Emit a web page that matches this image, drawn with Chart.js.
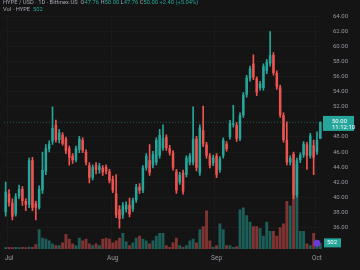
<!DOCTYPE html>
<html>
<head>
<meta charset="utf-8">
<script src="https://cdn.jsdelivr.net/npm/chart.js@4.4.1/dist/chart.umd.min.js"></script>
<style>
  html, body { margin: 0; padding: 0; background: #141414; }
  #wrap { width: 360px; height: 270px; position: relative; }
</style>
</head>
<body>
<div id="wrap"><canvas id="hypeChart"></canvas></div>
<script>
// daily candles, 30 Jun -> 2 Oct
var firstDay = '2025-06-30'
var opens = [38.0, 40.5, 39.25, 37.75, 40.1, 41.1, 39.5, 39.0, 44.9, 39.2,
  38.6, 40.9, 43.4, 46.4, 47.4, 49.6, 47.6, 48.3, 47.75, 46.5,
  45.5, 44.9, 46.3, 47.6, 46.0, 44.25, 42.6, 44.25, 43.6, 43.9,
  44.0, 43.4, 42.4, 40.5, 38.4, 37.6, 38.4, 39.0, 38.4, 39.6,
  41.4, 40.9, 43.9, 44.9, 44.25, 44.6, 45.5, 46.5, 48.0, 46.5,
  45.9, 43.4, 42.0, 43.25, 43.0, 44.6, 44.6, 47.75, 43.25, 48.9,
  47.0, 45.5, 44.5, 45.5, 43.6, 45.5, 47.1, 48.0, 49.6, 49.6,
  47.75, 50.9, 53.6, 55.75, 57.75, 55.75, 54.5, 54.5, 56.75, 57.75,
  58.9, 56.5, 54.6, 50.9, 47.6, 44.6, 45.75, 40.25, 44.9, 45.6,
  47.0, 45.5, 46.9, 46.0, 47.76]
var highs = [42.0, 41.0, 39.8, 40.5, 41.6, 41.4, 39.8, 45.2, 45.3, 39.5,
  41.5, 46.0, 47.0, 47.5, 52.0, 50.25, 49.0, 48.6, 48.0, 46.8,
  45.8, 46.8, 48.1, 47.9, 46.3, 44.6, 44.3, 44.6, 44.5, 44.2,
  44.3, 43.7, 42.8, 43.0, 38.9, 39.3, 39.4, 39.9, 39.9, 41.7,
  41.8, 44.2, 45.8, 47.0, 46.1, 47.9, 49.0, 49.6, 48.3, 46.9,
  46.2, 43.7, 43.3, 43.6, 45.5, 45.8, 52.0, 48.1, 49.6, 52.1,
  47.3, 45.8, 45.6, 45.8, 45.4, 47.9, 47.4, 50.2, 52.2, 49.9,
  51.2, 53.9, 56.2, 57.4, 58.9, 56.0, 55.4, 57.7, 58.3, 62.0,
  59.2, 56.8, 54.9, 51.2, 50.0, 45.5, 46.0, 45.2, 45.9, 47.4,
  47.3, 48.5, 47.6, 48.7, 50.0]
var lows = [37.5, 38.8, 37.0, 37.5, 39.8, 38.9, 38.2, 38.6, 38.2, 37.0,
  38.4, 40.5, 43.0, 46.0, 47.0, 47.3, 47.2, 46.9, 45.8, 44.25,
  44.5, 44.7, 45.9, 45.9, 44.3, 41.9, 42.3, 43.1, 43.2, 42.9,
  43.1, 41.9, 40.6, 37.3, 35.9, 37.2, 38.0, 37.4, 38.1, 39.3,
  40.5, 40.6, 43.6, 42.9, 43.9, 44.3, 45.2, 46.2, 46.2, 45.6,
  43.6, 40.5, 41.7, 40.4, 42.7, 44.3, 44.3, 43.5, 42.9, 46.7,
  45.2, 43.9, 44.2, 42.6, 43.3, 45.2, 46.1, 47.7, 49.3, 47.4,
  47.5, 50.6, 53.3, 55.4, 55.6, 53.5, 54.2, 54.2, 56.4, 57.4,
  56.2, 54.3, 50.6, 47.3, 44.3, 44.3, 39.8, 40.0, 44.6, 45.3,
  43.7, 45.2, 43.0, 45.7, 47.76]
var closes = [40.75, 39.25, 37.4, 40.1, 41.1, 39.5, 39.0, 44.9, 38.6, 38.6,
  41.1, 43.6, 46.5, 47.1, 49.2, 47.6, 48.6, 47.1, 46.1, 45.25,
  44.9, 46.5, 47.75, 46.2, 44.6, 42.6, 44.0, 43.6, 44.1, 43.3,
  43.4, 42.2, 40.9, 37.6, 37.1, 38.9, 39.0, 37.75, 39.6, 41.4,
  40.9, 43.9, 45.5, 43.25, 45.75, 47.6, 48.25, 47.9, 46.5, 45.9,
  43.9, 40.9, 43.0, 40.75, 45.25, 45.5, 47.75, 43.9, 49.25, 47.0,
  45.5, 44.25, 45.25, 43.0, 45.1, 47.6, 46.4, 49.9, 49.8, 47.75,
  50.9, 53.6, 55.9, 57.1, 55.9, 53.9, 55.1, 57.4, 58.0, 58.9,
  56.5, 54.6, 50.9, 47.6, 44.6, 45.2, 40.25, 44.9, 45.6, 47.1,
  45.5, 48.2, 45.25, 47.6, 50.0]
var volumes = [150, 170, 160, 180, 150, 170, 160, 190, 180, 420,
  1760, 1010, 920, 760, 500, 340, 330, 590, 1340, 920,
  500, 340, 1010, 760, 920, 500, 340, 500, 340, 920,
  1010, 920, 590, 760, 1010, 1430, 670, 340, 590, 1010,
  1180, 920, 760, 500, 760, 1180, 1430, 1430, 340, 170,
  590, 1010, 340, 170, 340, 760, 920, 590, 1760, 2020,
  3440, 760, 170, 340, 2270, 1760, 340, 340, 170, 250,
  3530, 3700, 3020, 2440, 2020, 2020, 1850, 1180, 2440, 1600,
  1600, 1180, 1930, 2270, 4280, 3860, 4790, 7560, 1600, 1600,
  500, 340, 1430, 760, 502]
var priceTicks = [36, 38, 40, 42, 44, 46, 48, 50, 52, 54, 56, 58, 60, 62, 64]
var monthNames = ['Jan', 'Feb', 'Mar', 'Apr', 'May', 'Jun', 'Jul', 'Aug', 'Sep', 'Oct', 'Nov', 'Dec']

var upColour = '#26a69a'
var downColour = '#ef5350'
var upVolColour = 'rgba(38, 166, 154, 0.5)'
var downVolColour = 'rgba(239, 83, 80, 0.5)'
var textColour = '#9598a1'
var fontFamily = 'Roboto, "Noto Sans", sans-serif'

var labels = []
var d = new Date(firstDay + 'T00:00:00Z')
for (var i = 0; i < closes.length; i++) {
  labels.push(d.toISOString().slice(0, 10))
  d.setUTCDate(d.getUTCDate() + 1)
}

var bodies = []
var wicks = []
var candleColours = []
var volColours = []
for (var i = 0; i < closes.length; i++) {
  bodies.push([opens[i], closes[i]])
  wicks.push([lows[i], highs[i]])
  var up = closes[i] >= opens[i]
  candleColours.push(up ? upColour : downColour)
  volColours.push(up ? upVolColour : downVolColour)
}

var lastClose = closes[closes.length - 1]
var prevClose = closes[closes.length - 2]
var change = lastClose - prevClose

// TradingView style overlays: legend text, price line, axis badges
var overlayPlugin = {
  id: 'overlay',
  beforeDraw: function (chart) {
    var c = chart.ctx
    c.save()
    c.fillStyle = '#141414'
    c.fillRect(0, 0, chart.width, chart.height)
    c.restore()
  },
  afterDatasetsDraw: function (chart) {
    var c = chart.ctx
    var area = chart.chartArea
    var y = chart.scales.y.getPixelForValue(lastClose)
    c.save()
    c.strokeStyle = 'rgba(38, 166, 154, 0.4)'
    c.lineWidth = 1
    c.setLineDash([1, 2])
    c.beginPath()
    c.moveTo(area.left, Math.round(y) + 0.5)
    c.lineTo(area.right, Math.round(y) + 0.5)
    c.stroke()
    c.restore()
  },
  afterDraw: function (chart) {
    var c = chart.ctx
    var area = chart.chartArea
    var y = chart.scales.y.getPixelForValue(lastClose)
    c.save()

    // last price badge
    c.fillStyle = upColour
    c.fillRect(area.right + 1, y - 6, 31, 15)
    c.fillStyle = '#ffffff'
    c.font = '6px ' + fontFamily
    c.textBaseline = 'middle'
    c.textAlign = 'left'
    c.fillText(lastClose.toFixed(2), area.right + 10, y - 0.5)
    c.fillText('11:12:10', area.right + 10, y + 5.5)

    // volume badge
    var vy = chart.scales.yv.getPixelForValue(volumes[volumes.length - 1])
    c.fillStyle = upColour
    c.fillRect(area.right + 2, vy - 5, 17, 9)
    c.fillStyle = '#ffffff'
    c.fillText(String(volumes[volumes.length - 1]), area.right + 5, vy - 0.5)
    c.fillStyle = '#6a3bd6'
    c.beginPath()
    c.arc(area.right - 5, vy, 3.5, 0, Math.PI * 2)
    c.fill()

    // legend lines
    var x = 3
    function seg(text, colour) {
      c.fillStyle = colour
      c.fillText(text, x, ty)
      x += c.measureText(text).width
    }
    c.font = '5.8px ' + fontFamily
    var ty = 3
    seg('HYPE / USD · 1D · Bitfinex.US  ', '#a3a6af')
    seg('O', '#a3a6af'); seg(opens[opens.length - 1].toFixed(2) + ' ', upColour)
    seg('H', '#a3a6af'); seg(highs[highs.length - 1].toFixed(2) + ' ', upColour)
    seg('L', '#a3a6af'); seg(lows[lows.length - 1].toFixed(2) + ' ', upColour)
    seg('C', '#a3a6af'); seg(lastClose.toFixed(2) + ' ', upColour)
    seg('+' + change.toFixed(2) + ' (+' + (change / prevClose * 100).toFixed(2) + '%)', upColour)
    x = 3
    ty = 10
    seg('Vol · HYPE  ', '#a3a6af')
    seg(String(volumes[volumes.length - 1]), upColour)
    c.restore()
  }
}

var ctx = document.getElementById('hypeChart').getContext('2d')
var hypeChart = new Chart(ctx, {
  type: 'bar',
  data: {
    labels: labels,
    datasets: [
      {
        label: 'Body',
        data: bodies,
        backgroundColor: candleColours,
        grouped: false,
        barPercentage: 0.75,
        categoryPercentage: 1,
        minBarLength: 1,
        order: 1
      },
      {
        label: 'Wick',
        data: wicks,
        backgroundColor: candleColours,
        grouped: false,
        barThickness: 1,
        order: 2
      },
      {
        label: 'Volume',
        data: volumes,
        yAxisID: 'yv',
        backgroundColor: volColours,
        grouped: false,
        barPercentage: 0.85,
        categoryPercentage: 1,
        order: 3
      }
    ]
  },
  options: {
    responsive: true,
    maintainAspectRatio: false,
    animation: false,
    layout: {
      padding: { left: 4, right: 0, top: 0, bottom: 0 }
    },
    plugins: {
      legend: { display: false },
      tooltip: { enabled: false }
    },
    scales: {
      x: {
        type: 'category',
        offset: true,
        border: { display: false },
        afterFit: function (scale) { scale.height = 21 },
        grid: {
          drawTicks: false,
          color: function (context) {
            var lab = labels[context.index]
            return lab && lab.slice(8) === '01' ? '#1a1a1a' : 'rgba(0,0,0,0)'
          }
        },
        ticks: {
          autoSkip: false,
          maxRotation: 0,
          padding: 5,
          color: textColour,
          font: { family: fontFamily, size: 6.5 },
          callback: function (value, index) {
            var lab = labels[index]
            if (lab.slice(8) === '01') {
              return monthNames[parseInt(lab.slice(5, 7), 10) - 1]
            }
            return ''
          }
        }
      },
      y: {
        position: 'right',
        min: 33.125,
        max: 64.25,
        border: { display: false },
        afterFit: function (scale) { scale.width = 38 },
        afterBuildTicks: function (scale) {
          scale.ticks = priceTicks.map(function (v) { return { value: v } })
        },
        grid: {
          drawTicks: false,
          color: '#1a1a1a'
        },
        ticks: {
          padding: 11,
          color: textColour,
          font: { family: fontFamily, size: 6 },
          callback: function (value) {
            return Number(value).toFixed(2)
          }
        }
      },
      yv: {
        display: false,
        min: 0,
        max: 20900
      }
    }
  },
  plugins: [overlayPlugin]
})
</script>
</body>
</html>
